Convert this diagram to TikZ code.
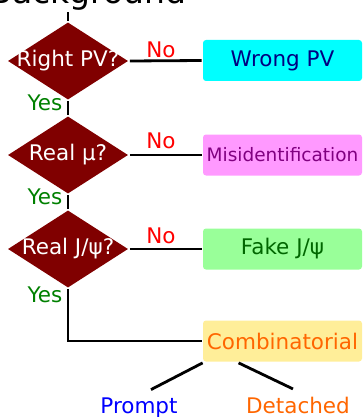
\documentclass[tikz,border=0pt]{standalone}
\usepackage{fontspec}
\setmainfont{DejaVu Sans}
\usetikzlibrary{shapes.geometric}
\definecolor{diared}{HTML}{800000}
\definecolor{wrongfill}{HTML}{00FFFF}
\definecolor{wrongtext}{HTML}{000080}
\definecolor{misfill}{HTML}{FF99FF}
\definecolor{mistext}{HTML}{800080}
\definecolor{fakefill}{HTML}{99FF99}
\definecolor{faketext}{HTML}{006600}
\definecolor{combfill}{HTML}{FFEE99}
\definecolor{combtext}{HTML}{FF6600}
\definecolor{yesgreen}{HTML}{008000}
\newcommand\bigfont{\fontsize{21.5}{25}\selectfont}

\begin{document}
\begin{tikzpicture}[x=1pt, y=-1pt, line width=2.8pt,
  dia/.style = {diamond, fill=diared, minimum width=121pt, minimum height=78pt, inner sep=0pt},
  dtext/.style = {text=white, font=\bigfont, inner sep=0pt},
  box/.style = {rounded corners=3pt, minimum width=159pt, minimum height=41pt, inner sep=0pt, font=\bigfont},
  no/.style = {text=red, font=\bigfont, inner sep=0pt},
  yes/.style = {text=yesgreen, font=\bigfont, inner sep=0pt}]
	\useasboundingbox (0,0) rectangle (362,417);
	\node[font=\fontsize{33}{38}\selectfont, anchor=base, inner sep=0pt] (bg) at (88,4) {Background};
	\node[dia, label={[dtext]center:Right PV?}] (d1) at (68,61) {};
	\node[dia, label={[dtext]center:Real μ?}] (d2) at (68,155) {};
	\node[dia, label={[dtext]center:Real J/ψ?}] (d3) at (68,249) {};
	\node[box, fill=wrongfill, text=wrongtext] (wrong) at (282.5,60.5) {Wrong PV};
	\node[box, fill=misfill, text=mistext, font=\fontsize{18.5}{22}\selectfont] (mis) at (282.5,155) {Misidentification};
	\node[box, fill=fakefill, text=faketext] (fake) at (282.5,249) {Fake J/ψ};
	\node[box, fill=combfill, text=combtext] (comb) at (282.5,341) {Combinatorial};
	\node[font=\bigfont, text=blue, anchor=base] (prompt) at (139,413) {Prompt};
	\node[font=\bigfont, text=combtext, anchor=base] (detached) at (298,413) {Detached};
	\node[no] (no1) at (161,50) {No};
	\node[no] (no2) at (161,141) {No};
	\node[no] (no3) at (161,236) {No};
	\node[yes] (yes1) at (45,103) {Yes};
	\node[yes] (yes2) at (45,197) {Yes};
	\node[yes] (yes3) at (45,295) {Yes};
	\draw (d1.north) -- (d1.north |- bg.south);
	\draw (d1.south) -- (d2.north);
	\draw (d2.south) -- (d3.north);
	\draw (d1.east) -- (wrong.west);
	\draw (d2.east) -- (mis.west);
	\draw (d3.east) -- (fake.west);
	\draw (d3.south) |- (comb.west);
	\draw ([xshift=1pt]comb.south west) -- ([xshift=12pt,yshift=3pt]prompt.north);
	\draw ([xshift=37pt]comb.south west) -- ([xshift=-5pt,yshift=3pt]detached.north);
\end{tikzpicture}
\end{document}
